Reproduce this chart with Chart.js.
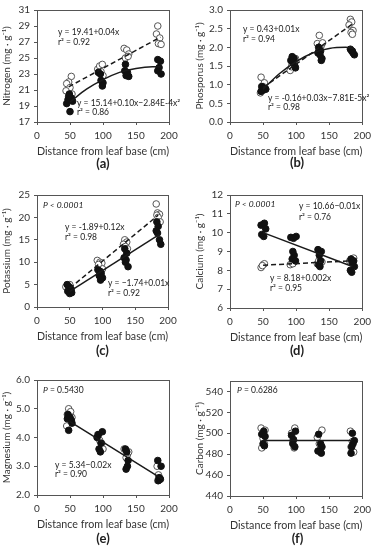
<!DOCTYPE html>
<html>
<head>
<meta charset="utf-8">
<script src="https://cdn.jsdelivr.net/npm/chart.js@4.4.1/dist/chart.umd.min.js"></script>
<style>
  body { margin: 0; background: #fff; width: 376px; height: 550px; position: relative; overflow: hidden; }
  .panel { position: absolute; width: 188px; }
  .panel canvas { display: block; }
  .tag { position: absolute; text-align: center; font: bold 13px Lato, sans-serif; color: #222; line-height: 16px; }
</style>
</head>
<body>
<script>
const xTicks = [0, 50, 100, 150, 200];
const xTitle = 'Distance from leaf base (cm)';

// (a) nitrogen
const nitrogenTicks = [17, 19, 21, 23, 25, 27, 29, 31];
const nitrogenOpen = [[52,22.7],[48,22.0],[45,21.8],[50,21.3],[44,20.9],[53,20.5],
  [92,23.6],[95,24.0],[99,24.2],[97,23.3],[100,22.8],
  [132,26.2],[136,26.0],[139,25.5],[134,25.0],[138,25.2],
  [183,29.0],[181,28.0],[186,27.5],[184,26.8],[188,26.7]];
const nitrogenFilled = [[45,19.3],[49,20.5],[52,20.0],[47,19.8],[54,19.6],[50,18.3],[48,20.2],
  [93,23.2],[96,23.0],[97,22.2],[100,21.9],[99,21.5],
  [134,24.2],[133,23.4],[135,22.8],[139,22.7],[137,23.2],
  [183,24.8],[187,24.6],[185,23.8],[183,23.4],[188,23.0]];
const nitrogenDashed = [[48,21.4],[187,27.6]];
const nitrogenSolid = [[50,19.5],[75,21.1],[100,22.3],[125,23.2],[150,23.7],[175,23.9],[187,23.9]];

// (b) phosphorus
const phosphorusTicks = [0, 0.5, 1.0, 1.5, 2.0, 2.5, 3.0];
const phosphorusOpen = [[47,1.2],[52,1.05],[50,0.95],[46,0.78],[54,0.88],
  [91,1.38],[94,1.55],[97,1.62],[99,1.7],[93,1.48],
  [135,2.32],[132,2.1],[138,2.05],[136,1.95],[140,2.12],
  [182,2.75],[184,2.68],[180,2.6],[186,2.45],[183,2.4],[185,2.35]];
const phosphorusFilled = [[48,0.95],[52,0.9],[50,0.85],[54,0.88],[47,0.82],[51,0.9],
  [94,1.75],[97,1.7],[92,1.65],[95,1.6],[98,1.5],[99,1.45],
  [134,2.0],[137,1.9],[133,1.85],[136,1.8],[139,1.7],[138,1.65],
  [182,1.95],[184,1.9],[186,1.85],[188,1.8],[185,1.9]];
const phosphorusDashed = [[50,0.92],[187,2.65]];
const phosphorusSolid = [[50,0.88],[75,1.3],[100,1.62],[125,1.85],[150,1.97],[175,2.0],[187,1.97]];

// (c) potassium
const potassiumTicks = [0, 5, 10, 15, 20, 25];
const potassiumOpen = [[44,4.5],[48,4.0],[52,3.5],[50,5.0],
  [92,10.4],[96,10.0],[99,9.8],[94,9.5],[100,8.5],
  [134,15.0],[137,14.5],[132,14.0],[135,13.5],[138,13.0],
  [182,23.0],[184,21.0],[187,20.7],[183,20.5],[185,20.0],[188,19.0]];
const potassiumFilled = [[46,5.0],[49,4.5],[52,4.0],[47,3.5],[53,3.2],[50,3.0],
  [93,8.3],[96,8.0],[98,7.5],[95,7.0],[100,6.5],[97,6.0],
  [134,13.0],[137,12.0],[133,11.0],[136,10.5],[135,10.0],[139,9.0],
  [183,19.0],[185,18.0],[182,17.0],[184,16.5],[187,15.0],[189,14.0]];
const potassiumDashed = [[50,4.2],[185,20.5]];
const potassiumSolid = [[50,3.5],[187,16.2]];

// (d) calcium
const calciumTicks = [6, 7, 8, 9, 10, 11, 12];
const calciumOpen = [[47,8.15],[50,8.3],[52,8.35],[49,8.25],
  [91,8.3],[94,8.4],[97,8.45],[95,8.35],
  [132,8.35],[136,8.4],[139,8.45],[134,8.5],
  [181,8.5],[184,8.6],[187,8.65],[183,8.55]];
const calciumFilled = [[47,10.4],[52,10.5],[54,10.2],[48,9.9],[51,9.8],
  [92,9.75],[96,9.7],[100,9.8],[95,9.0],[97,8.8],[94,8.6],[99,8.5],
  [133,9.1],[138,9.0],[135,8.8],[137,8.5],[134,8.3],[136,8.2],
  [183,8.6],[187,8.5],[185,8.4],[182,8.0],[184,7.9],[188,8.2]];
const calciumDashed = [[50,8.27],[182,8.5]];
const calciumSolid = [[50,10.0],[185,8.2]];

// (e) magnesium
const magnesiumTicks = [2.0, 2.5, 3.0, 3.5, 4.0, 4.5, 5.0, 5.5, 6.0];
const magnesiumOpen = [[48,5.0],[51,4.9],[46,4.8],[45,4.4],[53,4.7],
  [92,4.1],[95,3.9],[98,3.8],[100,3.6],
  [132,3.6],[137,3.4],[135,3.3],[139,3.5],
  [182,3.0],[184,2.7],[186,2.6],[183,2.5]];
const magnesiumFilled = [[47,4.8],[50,4.7],[46,4.65],[53,4.5],[48,4.25],[52,4.6],
  [99,4.2],[93,4.1],[91,4.0],[97,3.8],[94,3.6],[96,3.5],
  [134,3.6],[136,3.5],[138,3.2],[137,3.0],[135,2.9],
  [183,3.2],[188,3.0],[185,2.6],[187,2.55],[184,2.5]];
const magnesiumSolid = [[50,4.55],[190,2.55]];

// (f) carbon
const carbonTicks = [440, 460, 480, 500, 520, 540];
const carbonOpen = [[47,505],[53,503],[50,495],[48,486],[52,490],
  [98,505],[93,500],[95,492],[97,486],
  [139,503],[132,496],[135,490],[137,485],
  [182,502],[185,492],[183,487],[187,482]];
const carbonFilled = [[51,502],[48,499],[53,497],[50,490],[52,488],
  [99,502],[93,498],[96,494],[95,490],[98,487],
  [134,499],[137,490],[139,487],[133,483],[138,481],
  [185,500],[188,493],[186,490],[184,487],[183,481]];
const carbonSolid = [[50,493],[185,493]];

const FONT = 'Lato, "Open Sans", sans-serif';
Chart.defaults.font.family = FONT;
Chart.defaults.font.size = 10;
Chart.defaults.color = '#333';
Chart.defaults.animation = false;

const INK = '#1a1a1a';
const EDGE = '#555';

// frame round the plot area + equation texts
const boxText = {
  id: 'boxText',
  afterDatasetsDraw(chart, args, opts) {
    const { ctx, chartArea: a } = chart;
    ctx.save();
    ctx.strokeStyle = EDGE;
    ctx.lineWidth = 1;
    ctx.strokeRect(Math.round(a.left) + 0.5, Math.round(a.top) + 0.5,
      Math.round(a.right - a.left), Math.round(a.bottom - a.top));
    ctx.fillStyle = INK;
    ctx.textBaseline = 'middle';
    (opts.notes || []).forEach(n => {
      let x = n.x;
      if (n.p) {
        ctx.font = 'italic 8.5px ' + FONT;
        ctx.fillText('P', x, n.y);
        x += ctx.measureText('P').width;
      }
      ctx.font = (n.italic ? 'italic ' : '') + '8.5px ' + FONT;
      ctx.fillText(n.t, x, n.y);
    });
    ctx.restore();
  }
};

const pts = arr => arr.map(([x, y]) => ({ x, y }));

function panel(p) {
  const wrap = document.createElement('div');
  wrap.className = 'panel';
  wrap.style.left = p.left + 'px';
  wrap.style.top = p.top + 'px';
  const cv = document.createElement('canvas');
  cv.width = 188;
  cv.height = p.areaB + 38;
  wrap.appendChild(cv);
  const tag = document.createElement('div');
  tag.className = 'tag';
  tag.textContent = '(' + p.id + ')';
  tag.style.left = p.areaL + 'px';
  tag.style.width = (p.areaR - p.areaL) + 'px';
  tag.style.top = (p.tagY - 8) + 'px';
  wrap.appendChild(tag);
  document.body.appendChild(wrap);

  const datasets = [
    { data: pts(p.solid), showLine: true, borderColor: INK, borderWidth: 1.5, pointRadius: 0, cubicInterpolationMode: 'monotone' },
  ];
  if (p.dashed) datasets.push({ data: pts(p.dashed), showLine: true, borderColor: INK, borderWidth: 1.5, borderDash: [5, 3], pointRadius: 0 });
  datasets.push({ data: pts(p.filled), pointRadius: 3.3, backgroundColor: '#111', borderColor: '#111', borderWidth: 1 });
  datasets.push({ data: pts(p.open), pointRadius: 3.3, backgroundColor: '#fff', borderColor: EDGE, borderWidth: 1 });

  new Chart(cv, {
    type: 'scatter',
    data: { datasets },
    options: {
      responsive: false,
      layout: { padding: { left: 0, top: p.areaT, right: 188 - p.areaR, bottom: 0 } },
      plugins: { legend: { display: false }, tooltip: { enabled: false }, boxText: { notes: p.notes } },
      scales: {
        x: {
          min: 0, max: 200,
          afterBuildTicks: s => { s.ticks = xTicks.map(v => ({ value: v })); },
          afterFit: s => { s.height = 38; },
          grid: { drawOnChartArea: false, tickLength: 3, color: EDGE },
          border: { color: EDGE },
          ticks: { padding: 5, maxRotation: 0 },
          title: { display: true, text: xTitle, font: { size: 11 }, padding: { top: 0, bottom: 2 } },
        },
        y: {
          min: p.min, max: p.max,
          afterBuildTicks: s => { s.ticks = p.ticks.map(v => ({ value: v })); },
          afterFit: s => { s.width = p.areaL; },
          grid: { drawOnChartArea: false, tickLength: 3, color: EDGE },
          border: { color: EDGE },
          ticks: { padding: 4, callback: v => v.toFixed(p.dec) },
          title: { display: true, text: p.label, padding: { top: p.titlePad, bottom: 0 } },
        },
      },
    },
    plugins: [boxText],
  });
}

panel({ id: 'a', left: 0, top: 0, areaL: 37, areaR: 169, areaT: 9, areaB: 122, tagY: 163,
  min: 17, max: 31, ticks: nitrogenTicks, dec: 0, titlePad: 1, label: 'Nitrogen (mg · g⁻¹)',
  open: nitrogenOpen, filled: nitrogenFilled, dashed: nitrogenDashed, solid: nitrogenSolid,
  notes: [{ t: 'y = 19.41+0.04x', x: 58, y: 32 }, { t: 'r² = 0.92', x: 58, y: 42 },
          { t: 'y = 15.14+0.10x−2.84E-4x²', x: 77, y: 103 }, { t: 'r² = 0.86', x: 77, y: 112 }] });

panel({ id: 'b', left: 188, top: 0, areaL: 42, areaR: 176, areaT: 7, areaB: 122, tagY: 162,
  min: 0, max: 3, ticks: phosphorusTicks, dec: 1, titlePad: 6, label: 'Phosporus (mg · g⁻¹)',
  open: phosphorusOpen, filled: phosphorusFilled, dashed: phosphorusDashed, solid: phosphorusSolid,
  notes: [{ t: 'y = 0.43+0.01x', x: 55, y: 29 }, { t: 'r² = 0.94', x: 55, y: 39 },
          { t: 'y = -0.16+0.03x−7.81E-5x²', x: 80, y: 98 }, { t: 'r² = 0.98', x: 80, y: 107 }] });

panel({ id: 'c', left: 0, top: 180, areaL: 37, areaR: 168, areaT: 15, areaB: 127, tagY: 170,
  min: 0, max: 25, ticks: potassiumTicks, dec: 0, titlePad: 1, label: 'Potassium (mg · g⁻¹)',
  open: potassiumOpen, filled: potassiumFilled, dashed: potassiumDashed, solid: potassiumSolid,
  notes: [{ t: 'P < 0.0001', x: 43, y: 25, italic: true },
          { t: 'y = -1.89+0.12x', x: 65, y: 47 }, { t: 'r² = 0.98', x: 65, y: 57 },
          { t: 'y = −1.74+0.01x', x: 108, y: 103 }, { t: 'r² = 0.92', x: 108, y: 113 }] });

panel({ id: 'd', left: 188, top: 180, areaL: 42, areaR: 176, areaT: 15, areaB: 128, tagY: 170,
  min: 6, max: 12, ticks: calciumTicks, dec: 0, titlePad: 6, label: 'Calcium (mg · g⁻¹)',
  open: calciumOpen, filled: calciumFilled, dashed: calciumDashed, solid: calciumSolid,
  notes: [{ t: 'P < 0.0001', x: 47, y: 24, italic: true },
          { t: 'y = 10.66−0.01x', x: 111, y: 26 }, { t: 'r² = 0.76', x: 111, y: 37 },
          { t: 'y = 8.18+0.002x', x: 82, y: 98 }, { t: 'r² = 0.95', x: 82, y: 108 }] });

panel({ id: 'e', left: 0, top: 365, areaL: 37, areaR: 169, areaT: 15, areaB: 130, tagY: 173,
  min: 2, max: 6, ticks: magnesiumTicks, dec: 1, titlePad: 1, label: 'Magnesium (mg · g⁻¹)',
  open: magnesiumOpen, filled: magnesiumFilled, solid: magnesiumSolid,
  notes: [{ t: ' = 0.5430', x: 43, y: 25, p: true },
          { t: 'y = 5.34−0.02x', x: 55, y: 100 }, { t: 'r² = 0.90', x: 55, y: 109 }] });

panel({ id: 'f', left: 188, top: 365, areaL: 42, areaR: 177, areaT: 16, areaB: 131, tagY: 173,
  min: 440, max: 550, ticks: carbonTicks, dec: 0, titlePad: 6, label: 'Carbon (mg · g⁻¹)',
  open: carbonOpen, filled: carbonFilled, solid: carbonSolid,
  notes: [{ t: ' = 0.6286', x: 49, y: 25, p: true }] });
</script>
</body>
</html>
